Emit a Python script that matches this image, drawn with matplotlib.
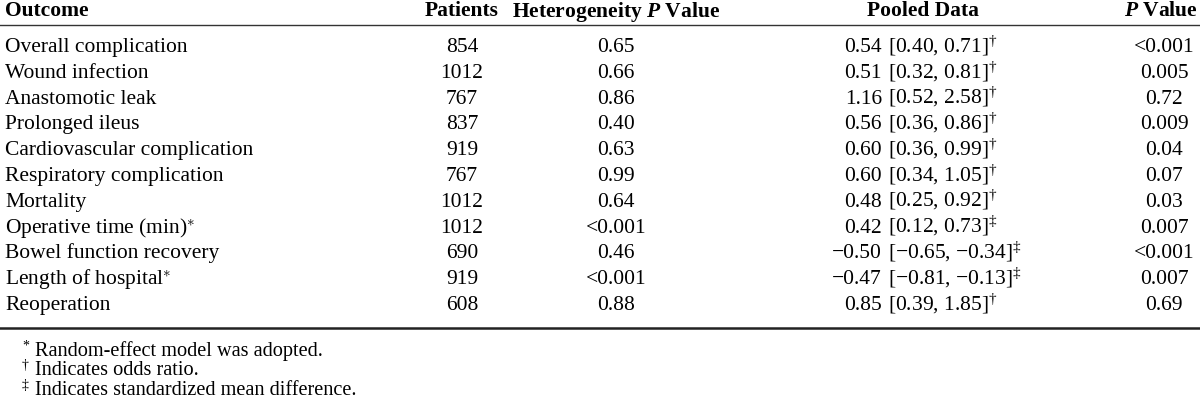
import matplotlib.pyplot as plt

plt.rcParams['font.family'] = ['Liberation Serif', 'DejaVu Serif']
plt.rcParams['mathtext.fontset'] = 'custom'
plt.rcParams['mathtext.rm'] = 'Liberation Serif'
plt.rcParams['mathtext.it'] = 'Liberation Serif:italic'
plt.rcParams['mathtext.bf'] = 'Liberation Serif:bold'
plt.rcParams['mathtext.bfit'] = 'Liberation Serif:bold:italic'

# table contents
headers = ['Outcome', 'Patients', r'Heterogeneity $\mathbfit{P}$ Value', 'Pooled Data', r'$\mathbfit{P}$ Value']
outcomes = ['Overall complication', 'Wound infection', 'Anastomotic leak', 'Prolonged ileus',
            'Cardiovascular complication', 'Respiratory complication', 'Mortality',
            'Operative time (min)*', 'Bowel function recovery', 'Length of hospital*', 'Reoperation']
patients = ['854', '1012', '767', '837', '919', '767', '1012', '1012', '690', '919', '608']
het_p = ['0.65', '0.66', '0.86', '0.40', '0.63', '0.99', '0.64', '<0.001', '0.46', '<0.001', '0.88']
pooled_est = ['0.54', '0.51', '1.16', '0.56', '0.60', '0.60', '0.48', '0.42', '\u22120.50', '\u22120.47', '0.85']
pooled_ci = ['[0.40, 0.71]', '[0.32, 0.81]', '[0.52, 2.58]', '[0.36, 0.86]', '[0.36, 0.99]',
             '[0.34, 1.05]', '[0.25, 0.92]', '[0.12, 0.73]', '[\u22120.65, \u22120.34]',
             '[\u22120.81, \u22120.13]', '[0.39, 1.85]']
pooled_mark = ['dagger'] * 7 + ['ddagger', 'ddagger', 'ddagger', 'dagger']
p_value = ['<0.001', '0.005', '0.72', '0.009', '0.04', '0.07', '0.03', '0.007', '<0.001', '0.007', '0.69']
footnote_marks = ['*', '\u2020', '\u2021']
footnotes = ['Random-effect model was adopted.',
             'Indicates odds ratio.',
             'Indicates standardized mean difference.']

fig = plt.figure(figsize=(12, 4.1), dpi=100)
ax = fig.add_axes([0, 0, 1, 1])
ax.set_xlim(0, 1200)
ax.set_ylim(410, 0)
ax.axis('off')

fs = 15.5
hx = [5, 462, 616, 923, 1198]
ha = ['left', 'center', 'center', 'center', 'right']
for h, x, a in zip(headers, hx, ha):
    ax.text(x, 16.5, h, ha=a, va='baseline', fontsize=fs, fontweight='bold')

ax.plot([0, 1200], [26, 26], color='#333333', lw=1.0)
ax.plot([0, 1200], [328.5, 328.5], color='#222222', lw=1.8)

y0, dy = 52, 25.8
for i in range(len(outcomes)):
    y = y0 + i * dy
    name = outcomes[i]
    if name.endswith('*'):
        name = name[:-1] + r'$^{\ast}$'
    ax.text(5, y, name, ha='left', va='baseline', fontsize=fs)
    ax.text(462, y, patients[i], ha='center', va='baseline', fontsize=fs)
    ax.text(616, y, het_p[i], ha='center', va='baseline', fontsize=fs)
    ax.text(882, y, pooled_est[i], ha='right', va='baseline', fontsize=fs)
    ax.text(888, y, pooled_ci[i] + r'$^{\%s}$' % pooled_mark[i], ha='left', va='baseline', fontsize=fs)
    ax.text(1164, y, p_value[i], ha='center', va='baseline', fontsize=fs)

for j in range(len(footnotes)):
    y = 356 + j * 19.5
    ax.text(22, y - 6, footnote_marks[j], ha='left', va='baseline', fontsize=10)
    ax.text(35, y, footnotes[j], ha='left', va='baseline', fontsize=14.6)

fig.savefig('out.png', dpi=100)
